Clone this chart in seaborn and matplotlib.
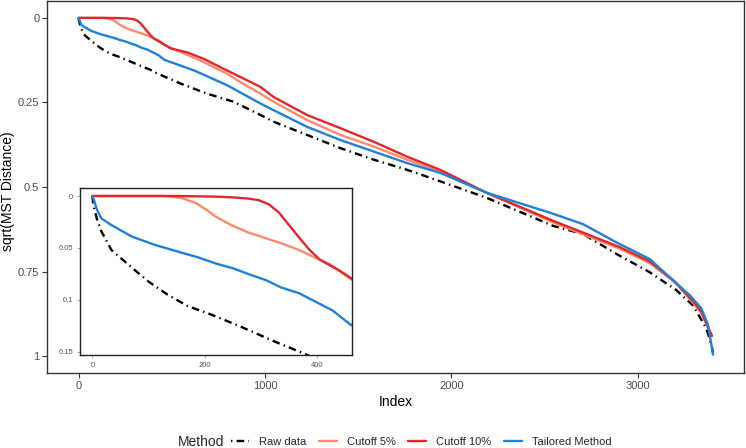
import pandas as pd
import seaborn as sns
import matplotlib.pyplot as plt
from matplotlib.lines import Line2D

# values (index, sqrt distance)
raw_idx = [0, 2, 8, 16, 34, 64, 99, 134, 170, 211, 261, 324, 383, 404, 546, 689, 832, 975,
           1046, 1225, 1404, 1582, 1761, 1939, 2189, 2546, 2707, 2886, 3064, 3207, 3296, 3368,
           3395, 3404]
raw_val = [0, 0.009, 0.022, 0.034, 0.052, 0.066, 0.082, 0.095, 0.106, 0.114, 0.125, 0.140,
           0.153, 0.160, 0.194, 0.224, 0.248, 0.287, 0.307, 0.346, 0.385, 0.419, 0.449, 0.483,
           0.532, 0.615, 0.639, 0.698, 0.752, 0.805, 0.850, 0.918, 0.967, 0.99]

cut5_idx = [0, 130, 160, 185, 205, 220, 247, 277, 336, 368, 395, 424, 460, 529, 654, 796,
            868, 975, 1046, 1225, 1404, 1582, 1761, 1939, 2189, 2546, 2904, 3064, 3200,
            3300, 3340, 3398]
cut5_val = [0, 0, 0.002, 0.007, 0.014, 0.02, 0.028, 0.035, 0.0455, 0.052, 0.059, 0.066,
            0.080, 0.097, 0.126, 0.165, 0.190, 0.224, 0.248, 0.302, 0.346, 0.380, 0.419,
            0.454, 0.517, 0.605, 0.683, 0.725, 0.782, 0.845, 0.872, 0.94]

cut10_idx = [0, 150, 218, 250, 277, 296, 314, 332, 350, 368, 385, 404, 427, 442, 460, 493,
             582, 671, 761, 850, 975, 1046, 1225, 1404, 1582, 1761, 1939, 2189, 2546, 2904,
             3064, 3200, 3300, 3340, 3398]
cut10_val = [0, 0, 0.0006, 0.0013, 0.0025, 0.004, 0.008, 0.016, 0.028, 0.040, 0.051, 0.061,
             0.068, 0.0725, 0.079, 0.090, 0.102, 0.121, 0.146, 0.170, 0.204, 0.234, 0.287,
             0.326, 0.366, 0.410, 0.449, 0.517, 0.600, 0.678, 0.72, 0.78, 0.84, 0.868, 0.94]

tail_idx = [0, 3, 8, 16, 34, 70, 111, 152, 188, 220, 250, 277, 309, 336, 368, 427, 460, 618,
            796, 975, 1046, 1225, 1404, 1582, 1761, 1939, 2189, 2529, 2707, 2886, 3064,
            3189, 3279, 3341, 3377, 3404]
tail_val = [0, 0.004, 0.013, 0.0215, 0.028, 0.039, 0.047, 0.0535, 0.059, 0.065, 0.0695,
            0.075, 0.081, 0.088, 0.0936, 0.110, 0.124, 0.155, 0.199, 0.253, 0.273, 0.322,
            0.361, 0.395, 0.429, 0.458, 0.517, 0.576, 0.610, 0.664, 0.713, 0.776, 0.820,
            0.859, 0.908, 0.996]

methods = ["Raw data", "Cutoff 5%", "Cutoff 10%", "Tailored Method"]
colors = ["#000000", "#FB8B6D", "#E0282B", "#1F80D9"]

frames = []
for m, xs, ys in zip(methods, [raw_idx, cut5_idx, cut10_idx, tail_idx],
                     [raw_val, cut5_val, cut10_val, tail_val]):
    frames.append(pd.DataFrame({"Index": xs, "Dist": ys, "Method": m}))
df = pd.concat(frames, ignore_index=True)

pal = dict(zip(methods, colors))
dash_raw = (3.2, 1.8, 0.6, 1.8)
dashes = {"Raw data": dash_raw, "Cutoff 5%": "", "Cutoff 10%": "", "Tailored Method": ""}

sns.set_style("white")
plt.rcParams["font.family"] = ["Liberation Sans", "DejaVu Sans"]

fig = plt.figure(figsize=(7.46, 4.48), dpi=100)
ax = fig.add_axes([47 / 746, 1 - 373 / 448, 697 / 746, 372 / 448])

sns.lineplot(data=df, x="Index", y="Dist", hue="Method", style="Method",
             palette=pal, dashes=dashes, linewidth=1.7, sort=False,
             estimator=None, legend=False, ax=ax)

ax.set_xlim(-170, 3570)
ax.set_ylim(1.05, -0.05)
ax.set_xticks([0, 1000, 2000, 3000])
ax.set_yticks([0, 0.25, 0.5, 0.75, 1])
ax.set_yticklabels(["0", "0.25", "0.5", "0.75", "1"])
ax.set_xlabel("Index", fontsize=10, color="black", labelpad=3)
ax.set_ylabel("sqrt(MST Distance)", fontsize=10, color="black")
ax.yaxis.set_label_coords(-32 / 697, 0.49)
ax.tick_params(axis="both", length=3.5, width=0.8, color="#333333",
               labelsize=8, labelcolor="#4D4D4D", pad=2, bottom=True, left=True)
for s in ax.spines.values():
    s.set_color("#333333")
    s.set_linewidth(1.0)

# inset zoom on the first few hundred points
axin = fig.add_axes([80 / 746, 1 - 355 / 448, 272 / 746, 167 / 448])
sns.lineplot(data=df, x="Index", y="Dist", hue="Method", style="Method",
             palette=pal, dashes=dashes, linewidth=1.7, sort=False,
             estimator=None, legend=False, ax=axin)
axin.set_xlim(-22, 462)
axin.set_ylim(0.153, -0.0077)
axin.set_xticks([0, 200, 400])
axin.set_yticks([0, 0.05, 0.1, 0.15])
axin.set_yticklabels(["0", "0.05", "0.1", "0.15"])
axin.set_xlabel("")
axin.set_ylabel("")
axin.tick_params(axis="both", length=2, width=0.5, color="#888888",
                 labelsize=5.5, labelcolor="#555555", pad=3, bottom=True, left=True)
for s in axin.spines.values():
    s.set_color("#222222")
    s.set_linewidth(1.0)

# legend at the bottom, title on the left
handles = [Line2D([], [], color=c, lw=1.7) for c in colors]
handles[0] = Line2D([], [], color="black", lw=1.7, dashes=(0.6, 1.8, 3.2, 1.8))
fig.text(178 / 746, 1 - 442 / 448, "Method", fontsize=10, va="center", ha="left")
fig.legend(handles, methods, loc="center left", bbox_to_anchor=(231 / 746, 1 - 442 / 448),
           ncol=4, frameon=False, fontsize=8, handlelength=1.6, handletextpad=0.9,
           columnspacing=1.15, borderpad=0, borderaxespad=0)

fig.savefig("out.png", dpi=100)
